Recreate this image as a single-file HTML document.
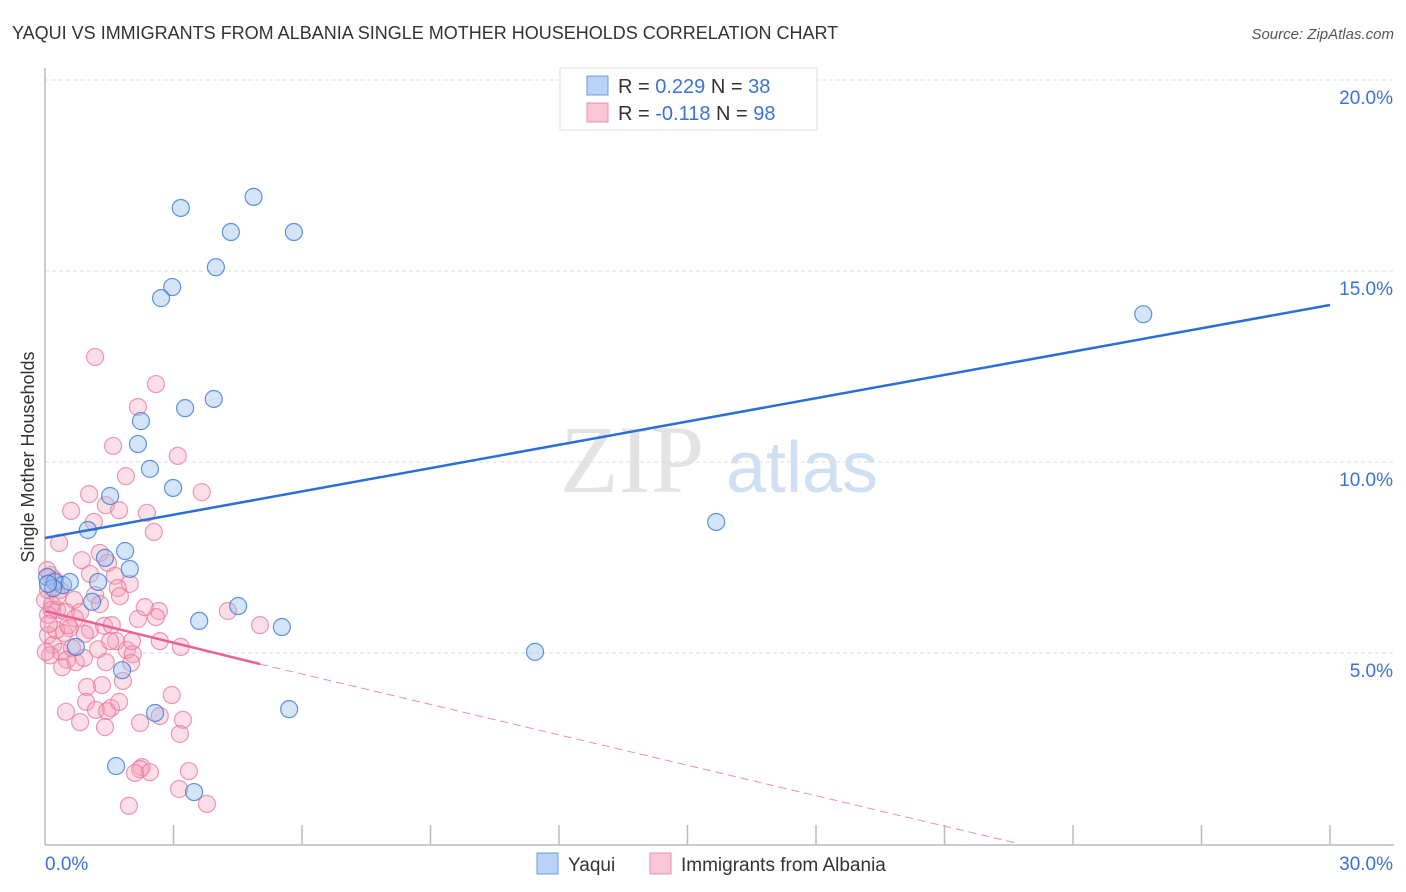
<!DOCTYPE html>
<html><head><meta charset="utf-8"><style>
body{margin:0;background:#fff;font-family:"Liberation Sans",sans-serif;}
#wrap{position:relative;width:1406px;height:892px;overflow:hidden;}
</style></head><body>
<div id="wrap">
<svg id="chart" width="1406" height="892" xmlns="http://www.w3.org/2000/svg">
<text x="12" y="39" font-size="18" fill="#333">YAQUI VS IMMIGRANTS FROM ALBANIA SINGLE MOTHER HOUSEHOLDS CORRELATION CHART</text>
<text x="1394" y="39" font-size="15" fill="#555" font-style="italic" text-anchor="end">Source: ZipAtlas.com</text>
<text x="34" y="457" font-size="18" fill="#333" transform="rotate(-90 34 457)" text-anchor="middle">Single Mother Households</text>
<g>
<text x="632" y="492" font-size="96" fill="#e3e3e3" font-family="Liberation Serif,serif" text-anchor="middle">ZIP</text>
<text x="802" y="492" font-size="72" fill="#cfe0f3" text-anchor="middle">atlas</text>
</g>
<g id="grid"></g><g id="axes"></g><g id="pts"></g><g id="lines"></g>
<g>
<rect x="560" y="68" width="257" height="62" fill="#fff" stroke="#ddd"/>
<rect x="587" y="76" width="21" height="19" fill="#b8d3f5" stroke="#6a9be0"/>
<rect x="587" y="103" width="21" height="19" fill="#f9c6d5" stroke="#ea8fab"/>
<text x="618" y="93" font-size="20" fill="#333">R = <tspan fill="#3b73d4">0.229</tspan>   N = <tspan fill="#3b73d4">38</tspan></text>
<text x="618" y="120" font-size="20" fill="#333">R = <tspan fill="#3b73d4">-0.118</tspan>   N = <tspan fill="#3b73d4">98</tspan></text>
</g>
<g>
<rect x="537" y="853" width="21" height="21" fill="#b8d3f5" stroke="#6a9be0"/>
<text x="568" y="871" font-size="19" fill="#333">Yaqui</text>
<rect x="650" y="853" width="21" height="21" fill="#f9c6d5" stroke="#ea8fab"/>
<text x="681" y="871" font-size="19" fill="#333">Immigrants from Albania</text>
</g>
</svg>
</div>
<script>
const yTicks=[5,10,15,20];
const yTickLabels=["5.0%","10.0%","15.0%","20.0%"];
const xTickVals=[0,3,6,9,12,15,18,21,24,27,30];
const xEndLabels=["0.0%","30.0%"];
const yaquiX=[4.87,3.17,4.34,5.81,3.99,2.97,2.71,25.64,3.94,3.27,2.24,2.17,2.45,2.99,1.52,1.00,15.67,1.87,1.98,1.40,0.05,0.23,0.42,0.58,1.24,0.19,1.10,4.51,3.60,5.53,11.44,0.72,1.80,5.70,2.57,1.66,3.48,0.07];
const yaquiY=[16.94,16.65,16.02,16.02,15.10,14.58,14.29,13.87,11.65,11.41,11.07,10.47,9.82,9.32,9.11,8.22,8.43,7.67,7.20,7.49,6.99,6.86,6.78,6.86,6.86,6.70,6.34,6.23,5.84,5.68,5.03,5.16,4.55,3.53,3.43,2.04,1.36,6.81];
const albX=[1.17,2.59,2.17,1.59,3.10,1.89,1.03,3.66,1.42,1.73,0.61,2.38,1.14,2.54,0.33,1.28,0.86,1.47,1.63,1.98,0.12,0.23,0.35,1.17,1.70,0.68,0.16,0.28,0.49,0.82,2.66,2.17,4.27,2.59,5.02,0.07,0.58,1.05,1.38,1.56,0.44,0.93,1.66,0.07,0.19,0.37,0.63,1.24,1.91,3.17,2.05,0.12,0.51,0.40,0.72,1.42,2.01,1.82,0.98,1.33,2.96,0.96,0.49,1.19,1.54,1.45,1.73,2.68,3.22,2.22,0.82,1.40,3.15,2.26,2.22,2.45,2.10,3.36,3.13,1.96,3.78,0,0.07,0.05,0.16,0.26,0.02,0.30,0.70,1.05,0.91,1.75,1.28,0.54,1.52,2.33,2.68,2.03,0.09];
const albY=[12.75,12.04,11.44,10.42,10.16,9.63,9.16,9.21,8.87,8.74,8.72,8.67,8.43,8.17,7.88,7.62,7.43,7.36,7.02,6.81,7.04,6.91,6.65,6.52,6.70,6.39,6.26,6.13,6.07,6.07,6.10,5.89,6.10,5.94,5.73,6.00,5.65,5.60,5.71,5.73,5.52,5.50,5.31,5.47,5.21,5.03,5.13,5.10,5.08,5.16,4.97,4.94,4.82,4.63,4.76,4.76,4.74,4.27,4.11,4.16,3.90,3.72,3.46,3.51,3.56,3.48,3.72,3.35,3.25,3.17,3.19,3.06,2.88,2.01,1.96,1.88,1.86,1.91,1.44,1.00,1.05,6.39,6.65,7.17,6.13,5.60,5.03,6.49,5.91,7.07,4.87,6.49,6.28,5.73,5.31,6.20,5.31,5.31,5.76];
const yaquiTrend=[[0,8.01],[30,14.11]];
const albTrendSolid=[[0,6.10],[5.02,4.71]];
const albTrendDash=[[5.02,4.71],[22.65,0.03]];
const NS="http://www.w3.org/2000/svg";
const X0=45,X1=1330,Y0=844,PXY=38.2;
function sx(v){return X0+(X1-X0)*v/30;}
function sy(v){return Y0-v*PXY;}
function mk(tag,attrs,parent){const e=document.createElementNS(NS,tag);for(const k in attrs)e.setAttribute(k,attrs[k]);document.getElementById(parent).appendChild(e);return e;}
yTicks.forEach((t,i)=>{
 const l=mk('line',{x1:X0,x2:1394,y1:sy(t),y2:sy(t),stroke:'#ddd','stroke-dasharray':'4 3'},'grid');
 
 
 const tx=mk('text',{x:1393,y:sy(t)+24,'font-size':19,fill:'#3b73d4','text-anchor':'end'},'grid');
 tx.textContent=yTickLabels[i];
 
 
});
const ax=mk('line',{x1:X0,x2:X0,y1:68,y2:Y0+1,stroke:'#bbb','stroke-width':1.5},'axes');


const bx=mk('line',{x1:X0,x2:1394,y1:Y0+1,y2:Y0+1,stroke:'#bbb','stroke-width':1.5},'axes');


xTickVals.slice(1).forEach(t=>{
 const l=mk('line',{x1:sx(t),x2:sx(t),y1:Y0-19,y2:Y0+1,stroke:'#bbb','stroke-width':1.5},'axes');
 
 
});
const xl0=mk('text',{x:45,y:870,'font-size':19,fill:'#3b73d4'},'axes');xl0.textContent=xEndLabels[0];


const xl1=mk('text',{x:1393,y:870,'font-size':19,fill:'#3b73d4','text-anchor':'end'},'axes');xl1.textContent=xEndLabels[1];


albX.forEach((x,i)=>{
 const c=mk('circle',{cx:sx(x),cy:sy(albY[i]),r:8.5,fill:'rgba(245,160,185,0.35)',stroke:'rgba(230,120,155,0.75)','stroke-width':1.2},'pts');
 
 
});
yaquiX.forEach((x,i)=>{
 const c=mk('circle',{cx:sx(x),cy:sy(yaquiY[i]),r:8.5,fill:'rgba(150,190,240,0.4)',stroke:'rgba(60,120,215,0.8)','stroke-width':1.2},'pts');
 
 
});
const l1=mk('line',{x1:sx(yaquiTrend[0][0]),y1:sy(yaquiTrend[0][1]),x2:sx(yaquiTrend[1][0]),y2:sy(yaquiTrend[1][1]),stroke:'#2a6fd6','stroke-width':2.5},'lines');


const l2=mk('line',{x1:sx(albTrendSolid[0][0]),y1:sy(albTrendSolid[0][1]),x2:sx(albTrendSolid[1][0]),y2:sy(albTrendSolid[1][1]),stroke:'#e8638f','stroke-width':2.5},'lines');


const l3=mk('line',{x1:sx(albTrendDash[0][0]),y1:sy(albTrendDash[0][1]),x2:sx(albTrendDash[1][0]),y2:sy(albTrendDash[1][1]),stroke:'#ec8fad','stroke-width':1,'stroke-dasharray':'8 5'},'lines');


</script>
</body></html>
